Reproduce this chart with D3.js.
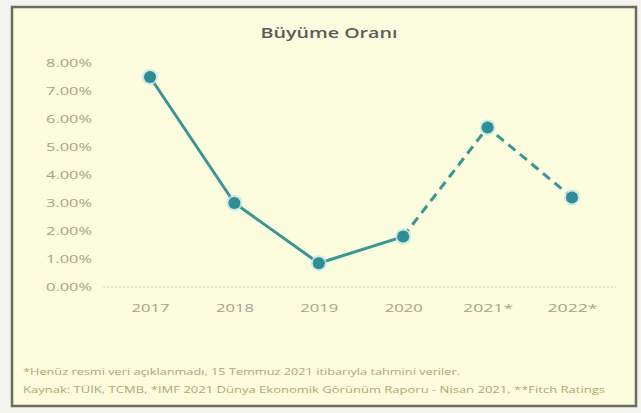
<!DOCTYPE html>
<html><head><meta charset="utf-8">
<script src="https://cdn.jsdelivr.net/npm/d3@7"></script>
<style>body{margin:0;background:#fff;}svg{display:block;}</style>
</head><body><svg id="c" width="641" height="413"></svg>
<script>
const categories = ["2017","2018","2019","2020","2021*","2022*"];
const growth = [7.5, 3.0, 0.85, 1.8, 5.7, 3.2];
const yTicks = [0,1,2,3,4,5,6,7,8];
const title = "Büyüme Oranı";
const notes = [
  "*Henüz resmi veri açıklanmadı, 15 Temmuz 2021 itibarıyla tahmini veriler.",
  "Kaynak: TÜİK, TCMB, *IMF 2021 Dünya Ekonomik Görünüm Raporu - Nisan 2021, **Fitch Ratings"
];

const svg = d3.select("#c");
svg.append("rect").attr("x",0).attr("y",0).attr("width",641).attr("height",413).attr("fill","#f4f4ee");
svg.append("rect").attr("x",12).attr("y",7).attr("width",624).attr("height",399)
  .attr("fill","#fbfbdd").attr("stroke","#6b6b62").attr("stroke-width",2.5);

const x = d3.scalePoint().domain(categories).range([150,572]);
const y = d3.scaleLinear().domain([0,8]).range([287,63]);

svg.append("text").attr("x",329).attr("y",38).attr("text-anchor","middle")
  .attr("font-family","Open Sans, sans-serif").attr("font-size",15).attr("font-weight",600)
  .attr("textLength",137).attr("lengthAdjust","spacingAndGlyphs")
  .attr("fill","#5c5c58").text(title);

// baseline
svg.append("line").attr("x1",103).attr("x2",616).attr("y1",y(0)).attr("y2",y(0))
  .attr("stroke","#d9d6bd").attr("stroke-width",1).attr("stroke-dasharray","2,2");

const yAxis = d3.axisLeft(y).tickValues(yTicks).tickSize(0).tickPadding(0)
  .tickFormat(d => d3.format(".2f")(d) + "%");
const gy = svg.append("g").attr("transform","translate(92,0)").call(yAxis);
gy.select(".domain").remove();
gy.selectAll("text").attr("font-family","Open Sans, sans-serif").attr("font-size",10.5)
  .attr("textLength",46).attr("lengthAdjust","spacingAndGlyphs")
  .attr("fill","#a5a38a");

const xAxis = d3.axisBottom(x).tickSize(0).tickPadding(0);
const gx = svg.append("g").attr("transform","translate(0,304)").call(xAxis);
gx.select(".domain").remove();
gx.selectAll("text").attr("font-family","Open Sans, sans-serif").attr("font-size",11)
  .attr("textLength",d => d.length > 4 ? 50 : 38).attr("lengthAdjust","spacingAndGlyphs")
  .attr("fill","#a5a38a");

const pts = categories.map((c,i)=>({c, v:growth[i]}));
const line = d3.line().x(d=>x(d.c)).y(d=>y(d.v));
svg.append("path").datum(pts.slice(0,4)).attr("d",line).attr("fill","none")
  .attr("stroke","#3a9593").attr("stroke-width",3).attr("stroke-linejoin","round");
svg.append("path").datum(pts.slice(3)).attr("d",line).attr("fill","none")
  .attr("stroke","#3a9593").attr("stroke-width",3).attr("stroke-dasharray","9,6");

svg.selectAll("circle.halo").data(pts).enter().append("circle").attr("class","halo")
  .attr("cx",d=>x(d.c)).attr("cy",d=>y(d.v)).attr("r",8).attr("fill","#bfe6e6").attr("opacity",0.8);
svg.selectAll("circle.pt").data(pts).enter().append("circle").attr("class","pt")
  .attr("cx",d=>x(d.c)).attr("cy",d=>y(d.v)).attr("r",6).attr("fill","#2f8d98");

const noteLens = [437, 582];
svg.selectAll("text.note").data(notes).enter().append("text").attr("class","note")
  .attr("x",23).attr("y",(d,i)=>375+i*18)
  .attr("font-family","Open Sans, sans-serif").attr("font-size",8.5)
  .attr("textLength",(d,i)=>noteLens[i]).attr("lengthAdjust","spacingAndGlyphs")
  .attr("fill","#aea872").text(d=>d);
</script></body></html>
